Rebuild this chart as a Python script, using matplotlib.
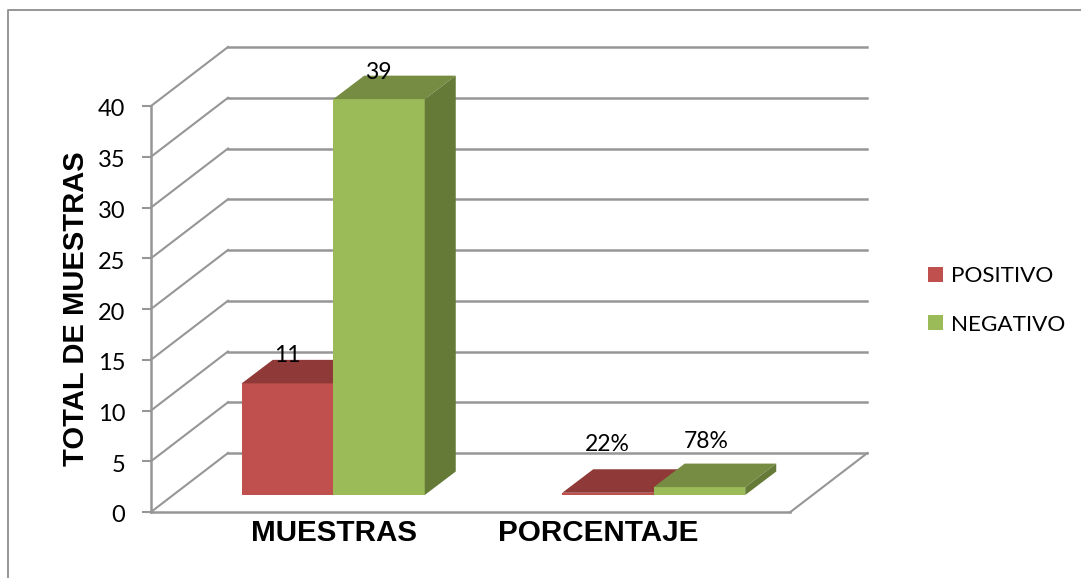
import matplotlib
matplotlib.use("Agg")
import matplotlib.pyplot as plt
from matplotlib.lines import Line2D
from matplotlib.patches import Patch
from matplotlib.transforms import ScaledTranslation

categories = ["MUESTRAS", "PORCENTAJE"]
series_names = ["POSITIVO", "NEGATIVO"]
positivo = [11, 0.22]
negativo = [39, 0.78]
positivo_labels = ["11", "22%"]
negativo_labels = ["39", "78%"]
y_ticks = [0, 5, 10, 15, 20, 25, 30, 35, 40]

W, H = 1081, 578
GRID = "#969696"
RED = ("#C0504D", "#8F3A38", "#7F3331")
GREEN = ("#9BBB59", "#768C43", "#657A37")

# front plane of the fake 3d box, in pixels
X0, X1 = 151, 792
Y0, Y40 = 512, 106
PX_X = (X1 - X0) / 2      # px per category
PX_Y = (Y0 - Y40) / 40    # px per unit

fig = plt.figure(figsize=(W / 100, H / 100), dpi=100)
fig.patch.set_facecolor("white")
ax = fig.add_axes([X0 / W, 1 - Y0 / H, (X1 - X0) / W, (Y0 - Y40) / H])
ax.set_xlim(0, 2)
ax.set_ylim(0, 40)
ax.patch.set_alpha(0)

plt.rcParams["font.family"] = "Lato"


def off(dx, dy):
    return dx / PX_X, dy / PX_Y


# ── chart frame ───────────────────────────────────────────────────────────────
fig.add_artist(Line2D([8 / W, 8 / W, 1], [0, 1 - 10 / H, 1 - 10 / H],
                      color=GRID, lw=1.4))

# ── walls and floor ───────────────────────────────────────────────────────────
wx, wy = off(77, 59)
for t in y_ticks:
    ax.plot([0, wx], [t, t + wy], color=GRID, lw=1.5, clip_on=False, zorder=1)
    ax.plot([wx, wx + 1.995], [t + wy, t + wy], color=GRID, lw=1.8, clip_on=False, zorder=1)
ax.plot([1.995, 1.995 + wx], [0, wy], color=GRID, lw=1.5, clip_on=False, zorder=1)

for sp in ["top", "right"]:
    ax.spines[sp].set_visible(False)
for sp in ["left", "bottom"]:
    ax.spines[sp].set_color(GRID)
    ax.spines[sp].set_linewidth(1.8)
ax.spines["bottom"].set_bounds(0, 1.995)

# ── bars ──────────────────────────────────────────────────────────────────────
BW = 91.5 / PX_X
fx, fy = off(22, 17)      # bar front face offset into the floor
dx, dy = off(31, 23.5)    # bar depth


def bar3d(x, v, cols, z):
    left = x + fx
    right = left + BW
    base = fy
    top = fy + v
    ax.fill([left, right, right, left], [base, base, top, top], color=cols[0],
            lw=0, clip_on=False, zorder=z)
    ax.fill([left, right, right + dx, left + dx], [top, top, top + dy, top + dy],
            color=cols[1], lw=0, clip_on=False, zorder=z)
    ax.fill([right, right + dx, right + dx, right], [base, base + dy, top + dy, top],
            color=cols[2], lw=0, clip_on=False, zorder=z)


label_off = [(0, 28), (-1, 27), (-1, 48), (7, 46)]
for i in range(len(categories)):
    bar3d(i + 0.5 - BW, positivo[i], RED, 3)
    bar3d(i + 0.5, negativo[i], GREEN, 4)

for i in range(len(categories)):
    xr = i + 0.5 - BW / 2 + fx
    xg = i + 0.5 + BW / 2 + fx
    ax.annotate(positivo_labels[i], (xr, positivo[i] + fy), xycoords="data",
                xytext=label_off[i * 2], textcoords="offset pixels", ha="center", va="center",
                fontsize=16.5, family="Lato", color="black", zorder=6, annotation_clip=False)
    ax.annotate(negativo_labels[i], (xg, negativo[i] + fy), xycoords="data",
                xytext=label_off[i * 2 + 1], textcoords="offset pixels", ha="center", va="center",
                fontsize=16.5, family="Lato", color="black", zorder=6, annotation_clip=False)

# ── axes text ─────────────────────────────────────────────────────────────────
ax.set_yticks(y_ticks)
ax.tick_params(axis="y", color=GRID, width=1.5, length=6.5, pad=12, labelsize=17, labelcolor="black")
shift = ScaledTranslation(0, -2 / 100, fig.dpi_scale_trans)
for lb in ax.get_yticklabels():
    lb.set_family("Lato")
    lb.set_transform(lb.get_transform() + shift)

ax.set_xticks([0.5725, 1.395])
ax.set_xticklabels(categories, family="Liberation Sans", fontweight="bold", fontsize=21.3)
ax.tick_params(axis="x", length=0, pad=5)

ax.set_ylabel("TOTAL DE MUESTRAS", family="Liberation Sans", fontweight="bold",
              fontsize=21, labelpad=5.5)

# ── legend ────────────────────────────────────────────────────────────────────
handles = [Patch(facecolor=RED[0], label=series_names[0]),
           Patch(facecolor=GREEN[0], label=series_names[1])]
fig.legend(handles=handles, loc="center left", bbox_to_anchor=(928 / W, 1 - 300.5 / H),
           frameon=False, borderpad=0, borderaxespad=0,
           prop={"family": "Lato", "size": 16.2}, handlelength=0.67, handleheight=0.67,
           handletextpad=0.36, labelspacing=1.25)

fig.savefig("out.png", dpi=100, facecolor="white")
